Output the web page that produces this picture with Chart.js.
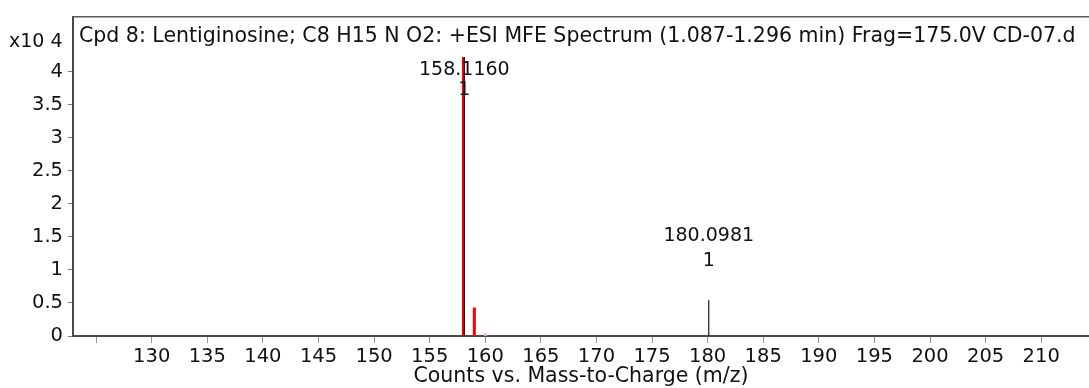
<!DOCTYPE html>
<html lang="en">
<head>
    <meta charset="UTF-8">
    <title>Lentiginosine MFE Spectrum</title>
    <script src="https://cdn.jsdelivr.net/npm/chart.js"></script>
    <style>
        body {
            margin: 0;
            padding: 0;
            background: #ffffff;
        }
        .chart-box {
            width: 1089px;
            height: 388px;
        }
    </style>
</head>
<body>
    <div class="chart-box">
        <canvas id="spectrumChart"></canvas>
    </div>

    <script>
        // profile (red) peaks
        const profileMz = [158.04, 159.02, 160.03];
        const profileCounts = [42200, 4300, 400];
        const profileColors = ['#ff0000', '#ff0000', '#e6b3ea'];

        // centroid (black) peaks and their labels
        const centroidMz = [158.116, 180.0981];
        const centroidCounts = [42200, 5400];
        const centroidLabels = ['158.1160', '180.0981'];
        const centroidCharge = ['1', '1'];

        // axes
        const xTicks = [125, 130, 135, 140, 145, 150, 155, 160, 165, 170, 175, 180, 185, 190, 195, 200, 205, 210];
        const yTicks = [0, 0.5, 1, 1.5, 2, 2.5, 3, 3.5, 4];
        const xRange = [122.92, 214.3];
        const yMax = 4.83;
        const yScaleFactor = 10000;

        const titleText = 'Cpd 8: Lentiginosine; C8 H15 N O2: +ESI MFE Spectrum (1.087-1.296 min) Frag=175.0V CD-07.d';
        const fontFamily = '"DejaVu Sans", sans-serif';

        const stick = (mz, counts) => [
            { x: mz, y: 0 },
            { x: mz, y: counts / yScaleFactor }
        ];

        const datasets = [];
        profileMz.forEach((mz, i) => {
            datasets.push({
                data: stick(mz, profileCounts[i]),
                borderColor: profileColors[i],
                borderWidth: 3,
                pointRadius: 0,
                order: 1
            });
        });
        centroidMz.forEach((mz, i) => {
            datasets.push({
                data: stick(mz, centroidCounts[i]),
                borderColor: '#1a1a1a',
                borderWidth: 1.2,
                pointRadius: 0,
                order: 0
            });
        });

        // title inside the frame, multiplier, peak labels, top frame line
        const decorations = {
            id: 'decorations',
            afterDraw(chart) {
                const ctx = chart.ctx;
                const area = chart.chartArea;
                const xs = chart.scales.x;
                const ys = chart.scales.y;
                ctx.save();

                ctx.strokeStyle = '#5a5a5a';
                ctx.lineWidth = 1.5;
                ctx.beginPath();
                ctx.moveTo(area.left, area.top);
                ctx.lineTo(area.right, area.top);
                ctx.stroke();

                ctx.fillStyle = '#111';
                ctx.textBaseline = 'middle';
                ctx.textAlign = 'left';
                ctx.font = '20.5px ' + fontFamily;
                ctx.fillText(titleText, area.left + 6, area.top + 20);
                ctx.font = '19px ' + fontFamily;
                ctx.fillText('x10 4', 9, area.top + 25);

                ctx.textAlign = 'center';
                centroidMz.forEach((mz, i) => {
                    const px = xs.getPixelForValue(mz);
                    const top = ys.getPixelForValue(centroidCounts[i] / yScaleFactor);
                    let nameY = top - 64;
                    let gap = 25;
                    if (nameY < area.top + 53) {
                        nameY = area.top + 53;
                        gap = 20;
                    }
                    ctx.fillText(centroidLabels[i], px, nameY);
                    ctx.fillText(centroidCharge[i], px, nameY + gap);
                });
                ctx.restore();
            }
        };

        new Chart(document.getElementById('spectrumChart'), {
            type: 'line',
            data: { datasets },
            options: {
                responsive: true,
                maintainAspectRatio: false,
                animation: false,
                layout: { padding: { top: 14, right: 0, left: 0, bottom: 0 } },
                plugins: {
                    legend: { display: false },
                    tooltip: { enabled: false }
                },
                scales: {
                    x: {
                        type: 'linear',
                        min: xRange[0],
                        max: xRange[1],
                        afterBuildTicks: (scale) => {
                            scale.ticks = xTicks.map(v => ({ value: v }));
                        },
                        afterFit: (scale) => { scale.height = 52; },
                        ticks: {
                            autoSkip: false,
                            maxRotation: 0,
                            padding: 2,
                            color: '#111',
                            font: { family: fontFamily, size: 19.5 },
                            callback: (v) => v === 125 ? '' : String(v)
                        },
                        grid: {
                            drawOnChartArea: false,
                            tickLength: 7,
                            tickColor: '#9a9a9a',
                            tickWidth: 1
                        },
                        border: { color: '#4a4a4a', width: 2 },
                        title: {
                            display: true,
                            text: 'Counts vs. Mass-to-Charge (m/z)',
                            color: '#111',
                            font: { family: fontFamily, size: 20.5, lineHeight: 1.0 },
                            padding: { top: 0, bottom: 1 }
                        }
                    },
                    y: {
                        type: 'linear',
                        min: 0,
                        max: yMax,
                        afterBuildTicks: (scale) => {
                            scale.ticks = yTicks.map(v => ({ value: v }));
                        },
                        afterFit: (scale) => { scale.width = 73; },
                        ticks: {
                            padding: 5,
                            color: '#111',
                            font: { family: fontFamily, size: 19.5 },
                            callback: (v) => String(v)
                        },
                        grid: {
                            drawOnChartArea: false,
                            tickLength: 5,
                            tickColor: '#777',
                            tickWidth: 1
                        },
                        border: { color: '#4a4a4a', width: 2 }
                    }
                }
            },
            plugins: [decorations]
        });
    </script>
</body>
</html>
